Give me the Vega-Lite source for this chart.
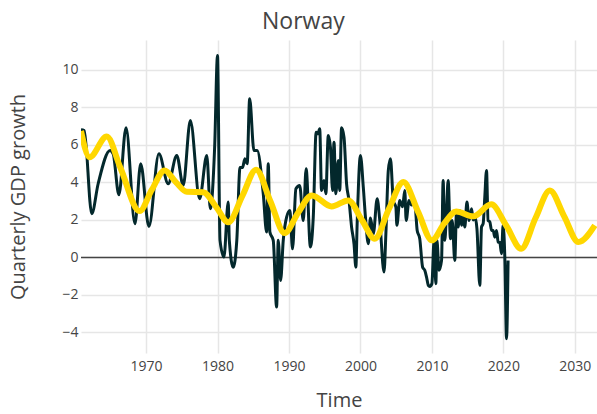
{
  "$schema": "https://vega.github.io/schema/vega-lite/v6.json",
  "width": 516,
  "height": 313,
  "autosize": {"type": "none"},
  "padding": {"left": 81, "top": 40, "right": 0, "bottom": 61},
  "background": "white",
  "config": {
    "view": {"stroke": null},
    "font": "Open Sans",
    "axis": {"labelFont": "Open Sans", "titleFont": "Open Sans", "labelColor": "#444", "titleColor": "#444", "titleFontWeight": "normal", "gridColor": "#e6e6e6", "gridWidth": 1.5, "domain": false, "ticks": false}
  },
  "title": {"text": "Norway", "fontSize": 23, "fontWeight": "normal", "color": "#444", "font": "Open Sans", "anchor": "middle", "frame": "bounds", "offset": 6},
  "datasets": {
    "actual": [
      {"t": 1960.9, "g": 6.81}, {"t": 1961.36, "g": 6.77}, {"t": 1962.4, "g": 2.33}, {"t": 1963.3, "g": 3.93},
      {"t": 1964.96, "g": 5.71}, {"t": 1965.4, "g": 5.53}, {"t": 1966.2, "g": 3.34}, {"t": 1967.2, "g": 6.92},
      {"t": 1968.45, "g": 1.8}, {"t": 1969.25, "g": 5.0}, {"t": 1970.4, "g": 1.65}, {"t": 1971.8, "g": 5.53},
      {"t": 1973.1, "g": 3.93}, {"t": 1974.3, "g": 5.44}, {"t": 1975.2, "g": 3.84}, {"t": 1976.2, "g": 7.31},
      {"t": 1977.5, "g": 3.13}, {"t": 1978.5, "g": 5.44}, {"t": 1979.0, "g": 2.6}, {"t": 1979.6, "g": 5.88},
      {"t": 1980.0, "g": 10.77}, {"t": 1980.35, "g": 0.91}, {"t": 1980.9, "g": 0.02}, {"t": 1981.5, "g": 2.95},
      {"t": 1981.65, "g": 0.91}, {"t": 1982.2, "g": -0.52}, {"t": 1982.7, "g": 0.91}, {"t": 1983.15, "g": 4.8},
      {"t": 1983.5, "g": 4.8}, {"t": 1983.84, "g": 5.26}, {"t": 1984.15, "g": 5.0}, {"t": 1984.5, "g": 8.46},
      {"t": 1985.1, "g": 5.7}, {"t": 1985.55, "g": 5.7}, {"t": 1986.4, "g": 3.4}, {"t": 1986.87, "g": 1.35},
      {"t": 1987.1, "g": 5.0}, {"t": 1987.33, "g": 1.35}, {"t": 1987.8, "g": 0.91}, {"t": 1988.27, "g": -2.65},
      {"t": 1988.5, "g": 0.91}, {"t": 1988.83, "g": -1.23}, {"t": 1989.2, "g": 0.91}, {"t": 1989.67, "g": 2.15},
      {"t": 1990.13, "g": 2.5}, {"t": 1990.5, "g": 0.46}, {"t": 1990.97, "g": 3.66}, {"t": 1991.5, "g": 3.84},
      {"t": 1992.0, "g": 1.97}, {"t": 1992.4, "g": 4.73}, {"t": 1993.0, "g": 0.55}, {"t": 1993.4, "g": 2.15},
      {"t": 1993.8, "g": 6.68}, {"t": 1994.05, "g": 6.6}, {"t": 1994.3, "g": 6.86}, {"t": 1994.56, "g": 3.57},
      {"t": 1994.9, "g": 4.1}, {"t": 1995.16, "g": 3.4}, {"t": 1995.5, "g": 6.5}, {"t": 1995.8, "g": 5.88},
      {"t": 1996.1, "g": 3.57}, {"t": 1996.3, "g": 6.15}, {"t": 1996.56, "g": 3.4}, {"t": 1996.9, "g": 5.17},
      {"t": 1997.1, "g": 3.57}, {"t": 1997.36, "g": 6.92}, {"t": 1997.7, "g": 6.42}, {"t": 1998.06, "g": 3.93},
      {"t": 1998.4, "g": 3.04}, {"t": 1998.76, "g": 1.62}, {"t": 1999.1, "g": 0.73}, {"t": 1999.36, "g": -0.52},
      {"t": 1999.54, "g": 1.8}, {"t": 2000.0, "g": 5.44}, {"t": 2000.4, "g": 3.75}, {"t": 2000.7, "g": 2.15},
      {"t": 2001.1, "g": 0.73}, {"t": 2001.4, "g": 2.1}, {"t": 2001.8, "g": 1.26}, {"t": 2002.34, "g": 3.13},
      {"t": 2002.7, "g": 2.0}, {"t": 2003.3, "g": -0.78}, {"t": 2003.56, "g": 1.26}, {"t": 2003.9, "g": 4.64},
      {"t": 2004.2, "g": 5.26}, {"t": 2004.6, "g": 3.04}, {"t": 2004.96, "g": 2.68}, {"t": 2005.1, "g": 1.71},
      {"t": 2005.5, "g": 3.04}, {"t": 2005.9, "g": 2.7}, {"t": 2006.2, "g": 3.57}, {"t": 2006.4, "g": 1.97},
      {"t": 2006.8, "g": 3.04}, {"t": 2007.15, "g": 2.8}, {"t": 2007.6, "g": 2.9}, {"t": 2007.94, "g": 1.44},
      {"t": 2008.3, "g": 1.0}, {"t": 2008.7, "g": -0.52}, {"t": 2009.0, "g": -0.69}, {"t": 2009.25, "g": -1.05},
      {"t": 2009.5, "g": -1.49}, {"t": 2009.7, "g": -1.55}, {"t": 2010.0, "g": -1.4}, {"t": 2010.3, "g": 0.91},
      {"t": 2010.55, "g": -1.4}, {"t": 2010.7, "g": 0.91}, {"t": 2011.0, "g": -0.69}, {"t": 2011.35, "g": -0.16},
      {"t": 2011.57, "g": 4.1}, {"t": 2011.8, "g": 0.91}, {"t": 2012.05, "g": 2.5}, {"t": 2012.27, "g": 4.1},
      {"t": 2012.6, "g": 1.0}, {"t": 2012.84, "g": 1.97}, {"t": 2013.2, "g": -0.16}, {"t": 2013.45, "g": 2.5},
      {"t": 2013.67, "g": 1.62}, {"t": 2013.9, "g": 2.5}, {"t": 2014.15, "g": 1.71}, {"t": 2014.37, "g": 2.15},
      {"t": 2014.6, "g": 1.62}, {"t": 2014.9, "g": 2.95}, {"t": 2015.2, "g": 1.97}, {"t": 2015.55, "g": 2.6},
      {"t": 2015.77, "g": 2.0}, {"t": 2016.0, "g": 2.2}, {"t": 2016.3, "g": 1.53}, {"t": 2016.7, "g": -1.49},
      {"t": 2016.94, "g": 1.62}, {"t": 2017.17, "g": 1.8}, {"t": 2017.4, "g": 3.22}, {"t": 2017.64, "g": 4.64},
      {"t": 2017.86, "g": 1.97}, {"t": 2018.1, "g": 1.9}, {"t": 2018.35, "g": 1.44}, {"t": 2018.57, "g": 1.44},
      {"t": 2018.8, "g": 1.08}, {"t": 2019.04, "g": 1.44}, {"t": 2019.27, "g": 0.82}, {"t": 2019.5, "g": 0.8},
      {"t": 2019.74, "g": 0.2}, {"t": 2019.96, "g": 1.71}, {"t": 2020.2, "g": 0.02}, {"t": 2020.44, "g": -4.34},
      {"t": 2020.66, "g": -0.16}
    ],
    "cycle": [
      {"t": 1960.9, "g": 6.75}, {"t": 1962.1, "g": 5.35}, {"t": 1964.5, "g": 6.45}, {"t": 1966.4, "g": 4.8},
      {"t": 1969.1, "g": 2.47}, {"t": 1970.8, "g": 3.6}, {"t": 1972.6, "g": 4.64}, {"t": 1974.2, "g": 4.0},
      {"t": 1975.7, "g": 3.5}, {"t": 1978.0, "g": 3.48}, {"t": 1979.8, "g": 2.7}, {"t": 1981.5, "g": 1.88},
      {"t": 1983.5, "g": 3.3}, {"t": 1985.4, "g": 4.68}, {"t": 1987.4, "g": 3.0}, {"t": 1989.4, "g": 1.3},
      {"t": 1991.3, "g": 2.4}, {"t": 1993.2, "g": 3.31}, {"t": 1995.96, "g": 2.72}, {"t": 1998.3, "g": 3.04},
      {"t": 2000.2, "g": 2.0}, {"t": 2002.0, "g": 1.0}, {"t": 2004.0, "g": 2.6}, {"t": 2006.0, "g": 4.02},
      {"t": 2008.1, "g": 2.4}, {"t": 2010.0, "g": 0.91}, {"t": 2011.7, "g": 1.8}, {"t": 2013.4, "g": 2.45},
      {"t": 2015.8, "g": 2.19}, {"t": 2018.3, "g": 2.83}, {"t": 2020.4, "g": 1.7}, {"t": 2022.5, "g": 0.46},
      {"t": 2024.5, "g": 2.1}, {"t": 2026.5, "g": 3.57}, {"t": 2028.5, "g": 2.2}, {"t": 2030.5, "g": 0.82},
      {"t": 2032.8, "g": 1.71}
    ]
  },
  "encoding": {
    "x": {"field": "t", "type": "quantitative", "scale": {"domain": [1960.9, 2033.1], "nice": false, "zero": false},
      "axis": {"values": [1970, 1980, 1990, 2000, 2010, 2020, 2030], "format": "d", "labelFontSize": 14, "labelPadding": 6, "title": "Time", "titleFontSize": 20, "titlePadding": 17}},
    "y": {"field": "g", "type": "quantitative", "scale": {"domain": [-5.1, 11.6], "nice": false, "zero": false},
      "axis": {"values": [-4, -2, 0, 2, 4, 6, 8, 10], "labelFontSize": 14, "labelPadding": 3, "title": "Quarterly GDP growth", "titleFontSize": 20, "titlePadding": 33}}
  },
  "layer": [
    {"data": {"values": [{"g": 0}]}, "mark": {"type": "rule", "color": "#444", "strokeWidth": 1.5}, "encoding": {"x": null, "y": {"field": "g", "type": "quantitative"}}},
    {"data": {"name": "actual"}, "mark": {"type": "line", "color": "#03282c", "strokeWidth": 3, "interpolate": "monotone", "clip": true}},
    {"data": {"name": "cycle"}, "mark": {"type": "line", "color": "#FFD700", "strokeWidth": 6, "interpolate": "monotone", "clip": true}}
  ]
}
